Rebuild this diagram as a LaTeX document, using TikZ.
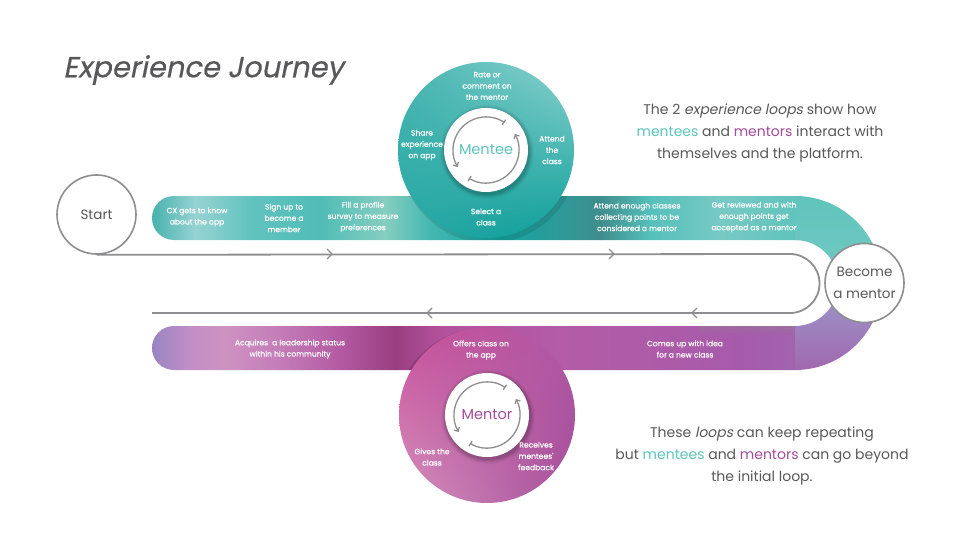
\documentclass[tikz,border=0pt]{standalone}
\usepackage{fontspec}
\setmainfont{Poppins}[AutoFakeSlant=0.2]
\newfontfamily\lblfont{Poppins}[FakeBold=0.8]
\newfontfamily\titlefont{Poppins}[FakeBold=0.5,AutoFakeSlant=0.2]
\usetikzlibrary{arrows.meta,shadings}
\definecolor{txtgray}{HTML}{58585A}
\definecolor{linegray}{HTML}{8E8E90}
\definecolor{mteal}{HTML}{5CC4BC}
\definecolor{mpurple}{HTML}{A24C9A}
\definecolor{t0}{HTML}{45B0AC}
\definecolor{t1}{HTML}{96D3D3}
\definecolor{t2}{HTML}{62C3BF}
\definecolor{t3}{HTML}{50BCB7}
\definecolor{t4}{HTML}{86CEC0}
\definecolor{t5}{HTML}{45B7B2}
\definecolor{t6}{HTML}{14A4A0}
\definecolor{t7}{HTML}{2E9A98}
\definecolor{t8}{HTML}{3F8D8C}
\definecolor{t9}{HTML}{55C0BB}
\definecolor{t10}{HTML}{78C9C4}
\definecolor{t11}{HTML}{5EC3BC}
\definecolor{p0}{HTML}{9684C2}
\definecolor{p1}{HTML}{C28EC6}
\definecolor{p2}{HTML}{CE92C2}
\definecolor{p3}{HTML}{C47CB8}
\definecolor{p4}{HTML}{B35AA2}
\definecolor{p5}{HTML}{9A3E80}
\definecolor{p6}{HTML}{B2529C}
\definecolor{p7}{HTML}{B45CA6}
\definecolor{p8}{HTML}{AD5BA8}
\definecolor{p9}{HTML}{A65BAA}
\definecolor{p10}{HTML}{A164AE}
\definecolor{mtul}{HTML}{48B5B1}
\definecolor{mtur}{HTML}{8CD2CE}
\definecolor{mtll}{HTML}{28A8A4}
\definecolor{mtlr}{HTML}{0C9E9A}
\definecolor{mpul}{HTML}{C8509A}
\definecolor{mpur}{HTML}{B058A4}
\definecolor{mpll}{HTML}{D692BE}
\definecolor{mplr}{HTML}{A64E9A}
\definecolor{turnA}{HTML}{6CC8C0}
\definecolor{turnB}{HTML}{9C92C6}
\newcommand\bandseg[4]{\shade[left color=#3,right color=#4] (#1,180) rectangle (#2,380);}
\newcommand\turnseg[4]{\shade[top color=#3,bottom color=#4] (780,#1) rectangle (900,#2);}
\begin{document}
\begin{tikzpicture}[x=1pt,y=-1pt,
  lbl/.style={text=white,font=\lblfont\fontsize{7.6}{11.3}\selectfont,align=center,inner sep=0pt},
  para/.style={text=txtgray,font=\fontsize{14}{22}\selectfont,align=center,inner sep=0pt},
  ringnode/.style={circle,draw=linegray,line width=1.6pt,fill=white,minimum size=79pt,inner sep=0pt,text=txtgray,font=\fontsize{13.5}{22}\selectfont,align=center},
  grayline/.style={draw=linegray,line width=1.8pt},
  chev/.style={draw=linegray,line width=1.3pt},
  cyc/.style={draw=linegray,line width=1.3pt},
]
\useasboundingbox (0,0) rectangle (960,540);
\fill[white] (0,0) rectangle (960,540);

% ---------- top band ----------
\begin{scope}
\clip (174,196) -- (801,196) -- (801,240) -- (174,240) arc[start angle=90,end angle=270,radius=22] -- cycle;
\bandseg{150}{195.5}{t0}{t1}
\bandseg{195}{250.5}{t1}{t2}
\bandseg{250}{320.5}{t2}{t3}
\bandseg{320}{385.5}{t3}{t4}
\bandseg{385}{430.5}{t4}{t5}
\bandseg{430}{500.5}{t5}{t6}
\bandseg{500}{560.5}{t6}{t7}
\bandseg{560}{600.5}{t7}{t8}
\bandseg{600}{650.5}{t8}{t9}
\bandseg{650}{720.5}{t9}{t10}
\bandseg{720}{801}{t10}{t11}
\fill[black,opacity=0.10] (489,154) circle (89);
\end{scope}

% ---------- bottom band ----------
\begin{scope}
\clip (174,326) -- (801,326) -- (801,370) -- (174,370) arc[start angle=90,end angle=270,radius=22] -- cycle;
\bandseg{150}{190.5}{p0}{p1}
\bandseg{190}{225.5}{p1}{p2}
\bandseg{225}{280.5}{p2}{p3}
\bandseg{280}{340.5}{p3}{p4}
\bandseg{340}{395.5}{p4}{p5}
\bandseg{395}{440.5}{p5}{p6}
\bandseg{440}{560.5}{p6}{p7}
\bandseg{560}{660.5}{p7}{p8}
\bandseg{660}{740.5}{p8}{p9}
\bandseg{740}{801}{p9}{p10}
\fill[black,opacity=0.12] (484,417) circle (89);
\shade[top color=black!45,bottom color=p9,opacity=0.35] (700,326) rectangle (801,334);
\end{scope}

% ---------- right turn ----------
\begin{scope}
\clip (795,196) arc[start angle=-90,end angle=90,radius=87] -- (795,326)
  arc[start angle=90,end angle=-90,radius=43] -- cycle;
\turnseg{190}{250.5}{t11}{turnA}
\turnseg{250}{300.5}{turnA}{turnB}
\turnseg{300}{375}{turnB}{p10}
\end{scope}

% ---------- loops ----------
\shade[upper left=mtul,upper right=mtur,lower left=mtll,lower right=mtlr] (486,150) circle (88);
\shade[upper left=mpul,upper right=mpur,lower left=mpll,lower right=mplr] (487,415) circle (88);

% inner white circles with soft shadow
\foreach \r/\o in {47/0.03,46/0.04,45/0.05,44/0.06,43/0.07}{
  \fill[black,opacity=\o] (487,152) circle (\r);
  \fill[black,opacity=\o] (488,417) circle (\r);
}
\fill[white] (486,150) circle (42);
\fill[white] (487,415) circle (42);

% cycle arrows
\draw[cyc,{Bar[width=6pt]}-{Straight Barb[length=3pt,width=6pt]}] (486,150) ++(-56:33) arc[start angle=-56,end angle=-211,radius=33];
\draw[cyc,{Bar[width=6pt]}-{Straight Barb[length=3pt,width=6pt]}] (486,150) ++(-239:33) arc[start angle=-239,end angle=-389,radius=33];
\draw[cyc,{Bar[width=6pt]}-{Straight Barb[length=3pt,width=6pt]}] (487,415) ++(-56:33) arc[start angle=-56,end angle=-211,radius=33];
\draw[cyc,{Bar[width=6pt]}-{Straight Barb[length=3pt,width=6pt]}] (487,415) ++(-239:33) arc[start angle=-239,end angle=-389,radius=33];

\node[text=mteal,font=\fontsize{14.5}{16}\selectfont,inner sep=0pt] (mentee) at (486,150) {Mentee};
\node[text=mpurple,font=\fontsize{14.5}{16}\selectfont,inner sep=0pt] (mentor) at (487,415) {Mentor};

% ---------- gray journey line ----------
\node[ringnode] (start) at (96.5,214.5) {Start};
\coordinate (g1) at (790,254);
\coordinate (g3) at (152,313);
\draw[grayline] (start.south) -- (g1) arc[start angle=-90,end angle=90,radius=29.5] -- (g3);
\draw[chev] (327,249) -- (332,254) -- (327,259);
\draw[chev] (609,249) -- (614,254) -- (609,259);
\draw[chev] (697,308) -- (692,313) -- (697,318);
\draw[chev] (432,308) -- (427,313) -- (432,318);

\node[ringnode] (become) at (864.5,283) {Become\\a mentor};

% ---------- labels ----------
\node[lbl] (l1) at (197,217) {CX gets to know\\about the app};
\node[lbl] (l2) at (284,218) {Sign up to\\become a\\member};
\node[lbl] (l3) at (363,217) {Fill a profile\\survey to measure\\preferences};
\node[lbl] (l4) at (486,217) {Select a\\class};
\node[lbl] (l5) at (637,217) {Attend enough classes\\collecting points to be\\considered a mentor};
\node[lbl] (l6) at (754,217) {Get reviewed and with\\enough points get\\accepted as a mentor};
\node[lbl] (l7) at (487,86) {Rate or\\comment on\\the mentor};
\node[lbl] (l8) at (422,145) {Share\\experience\\on app};
\node[lbl] (l9) at (552,150) {Attend\\the\\class};
\node[lbl] (l10) at (290,349) {Acquires \ a leadership status\\within his community};
\node[lbl] (l11) at (481,350) {Offers class on\\the app};
\node[lbl] (l12) at (685,349) {Comes up with idea\\for a new class};
\node[lbl] (l13) at (432,457) {Gives the\\class};
\node[lbl] (l14) at (536,456) {Receives\\mentees'\\feedback};

% ---------- title and paragraphs ----------
\node[anchor=west,text=txtgray,font=\titlefont\fontsize{29}{32}\selectfont\itshape,inner sep=0pt] (title) at (63,70) {Experience Journey};
\node[para] (p1) at (760,133) {The 2 \textit{experience loops} show how\\\textcolor{mteal}{mentees} and \textcolor{mpurple}{mentors} interact with\\themselves and the platform.};
\node[para] (p2) at (762,456) {These \textit{loops} can keep repeating\\but \textcolor{mteal}{mentees} and \textcolor{mpurple}{mentors} can go beyond\\the initial loop.};
\end{tikzpicture}
\end{document}
